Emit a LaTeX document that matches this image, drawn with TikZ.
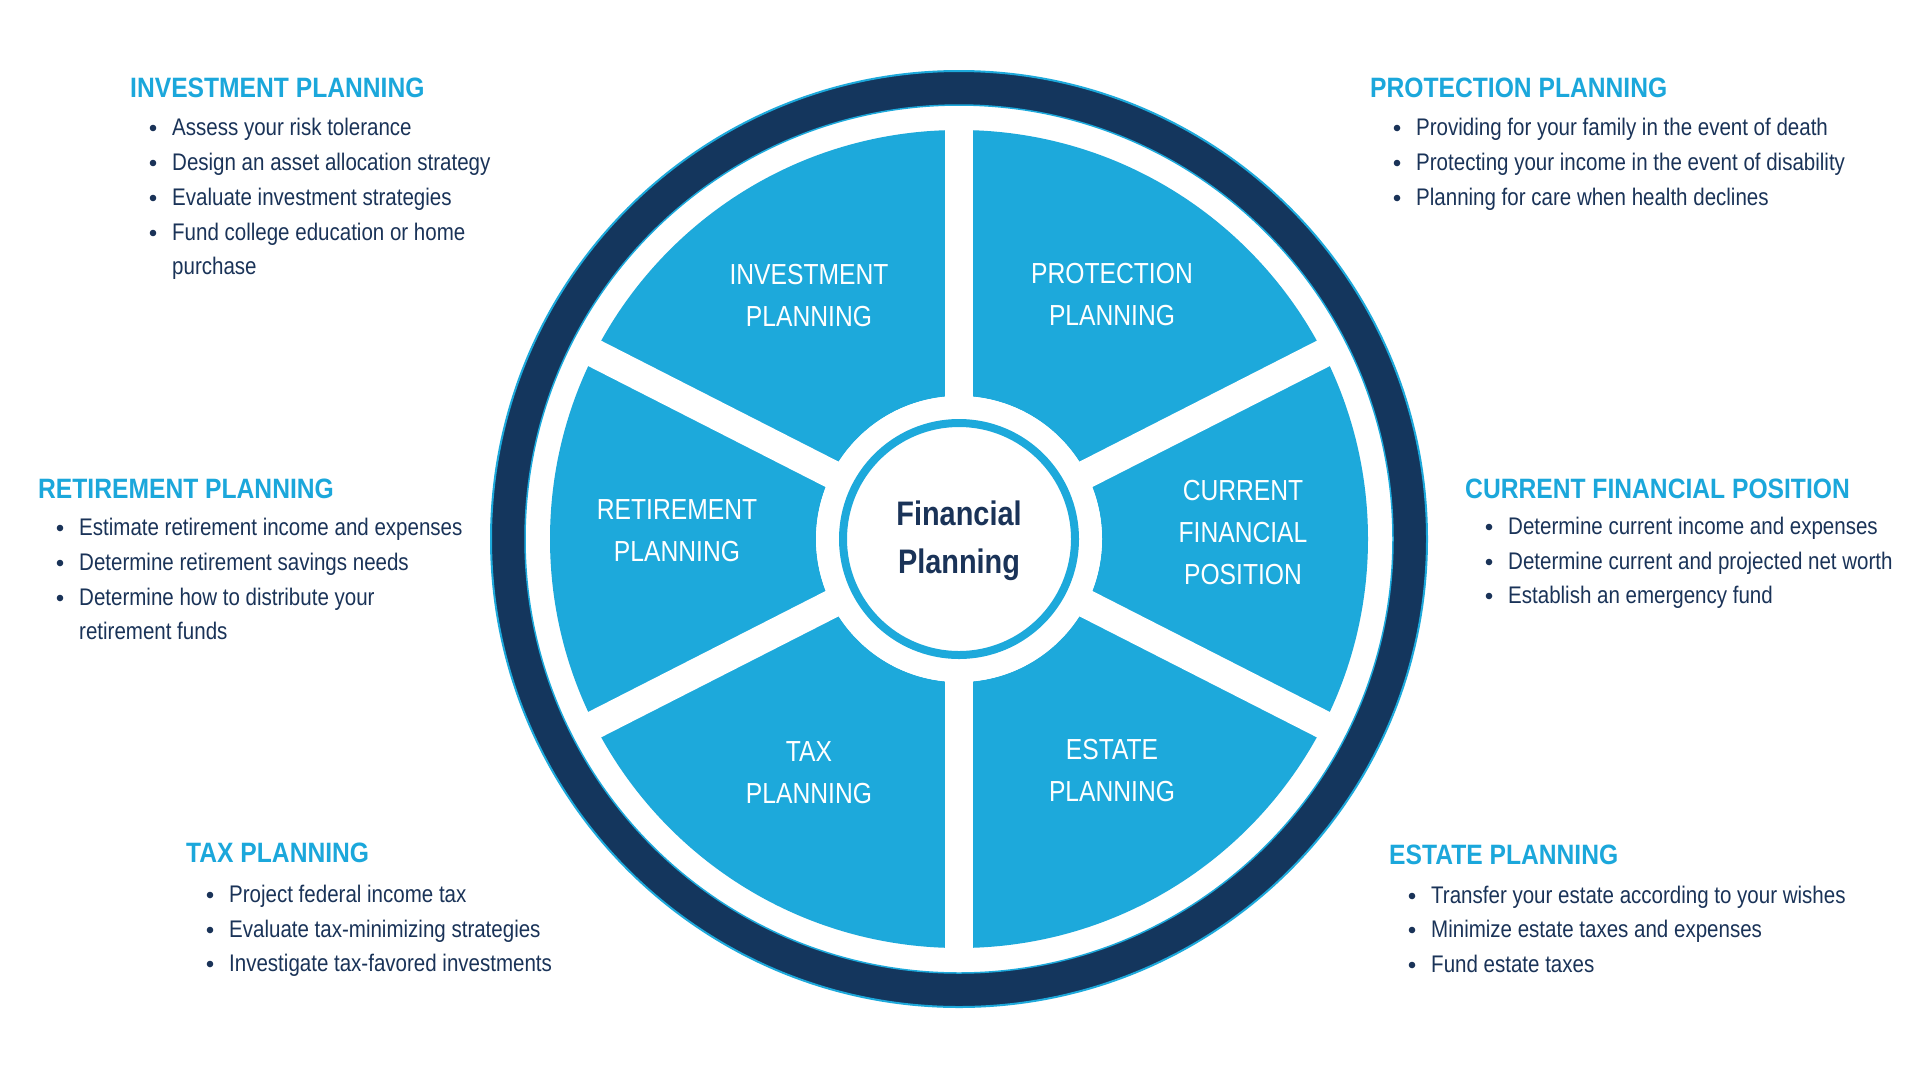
\documentclass[tikz,border=0pt]{standalone}
\usepackage{fontspec}
\setmainfont{Liberation Sans}[FakeStretch=0.855]
\newfontfamily\segfont{Liberation Sans}[FakeStretch=0.85]
\newfontfamily\headfont{Liberation Sans}[FakeStretch=0.88]
\newfontfamily\centfont{Liberation Sans}[FakeStretch=0.85]
\definecolor{segblue}{HTML}{1DA9DB}
\definecolor{ringnavy}{HTML}{14365D}
\definecolor{txtnavy}{HTML}{1A3358}
\definecolor{headblue}{HTML}{1BA7DB}
\tikzset{
  heading/.style={inner sep=0pt, anchor=base west, text=headblue, font=\headfont\bfseries\fontsize{28}{34}\selectfont},
  itemtext/.style={inner sep=0pt, anchor=base west, text=txtnavy, font=\fontsize{24}{30}\selectfont},
  seglabel/.style={inner sep=0pt, align=center, text=white, font=\segfont\fontsize{29}{42}\selectfont},
  centlabel/.style={inner sep=0pt, align=center, text=txtnavy, font=\centfont\bfseries\fontsize{34}{48}\selectfont},
  gapline/.style={white, line width=28.5pt},
}
\newcommand\bitem[3]{%
  \node[itemtext] (#1) at (#2) {#3};
  \fill[txtnavy] ([xshift=-19pt,yshift=7pt]#1.base west) circle (3.3pt);}
\newcommand\citem[3]{\node[itemtext] (#1) at (#2) {#3};}
\begin{document}
\begin{tikzpicture}[x=1pt,y=-1pt]
\useasboundingbox[fill=white] (0,0) rectangle (1920,1080);
\coordinate (c) at (959,539);
% outer ring
\draw[ringnavy, line width=34pt] (c) circle (451pt);
\draw[segblue, line width=2pt] (c) circle (468pt);
\draw[segblue, line width=1.5pt] (c) circle (434pt);
% segments
\fill[segblue, even odd rule] (c) circle (409pt) (c) circle (143pt);
\foreach \a in {90,270,27,153,207,333}
  \draw[gapline] (c) -- ++(\a:425pt);
% centre
\fill[white] (c) circle (143pt);
\draw[segblue, line width=8pt] (c) circle (116pt);
\node[centlabel] (center) at (959,541) {Financial\\Planning};
% segment labels
\node[seglabel] (sInv) at (809,296) {INVESTMENT\\PLANNING};
\node[seglabel] (sPro) at (1112,295) {PROTECTION\\PLANNING};
\node[seglabel] (sRet) at (677,531) {RETIREMENT\\PLANNING};
\node[seglabel] (sCur) at (1243,533) {CURRENT\\FINANCIAL\\POSITION};
\node[seglabel] (sTax) at (809,773) {TAX\\PLANNING};
\node[seglabel] (sEst) at (1112,771) {ESTATE\\PLANNING};
% investment
\node[heading] (hInv) at (130,97) {INVESTMENT PLANNING};
\bitem{i1}{172,135}{Assess your risk tolerance}
\bitem{i2}{172,170}{Design an asset allocation strategy}
\bitem{i3}{172,205}{Evaluate investment strategies}
\bitem{i4}{172,240}{Fund college education or home}
\citem{i5}{172,274}{purchase}
% protection
\node[heading] (hPro) at (1370,97) {PROTECTION PLANNING};
\bitem{p1}{1416,135}{Providing for your family in the event of death}
\bitem{p2}{1416,170}{Protecting your income in the event of disability}
\bitem{p3}{1416,205}{Planning for care when health declines}
% retirement
\node[heading] (hRet) at (38,498) {RETIREMENT PLANNING};
\bitem{r1}{79,535}{Estimate retirement income and expenses}
\bitem{r2}{79,570}{Determine retirement savings needs}
\bitem{r3}{79,605}{Determine how to distribute your}
\citem{r4}{79,639}{retirement funds}
% current
\node[heading] (hCur) at (1465,498) {CURRENT FINANCIAL POSITION};
\bitem{c1}{1508,534}{Determine current income and expenses}
\bitem{c2}{1508,569}{Determine current and projected net worth}
\bitem{c3}{1508,603}{Establish an emergency fund}
% tax
\node[heading] (hTax) at (186,862) {TAX PLANNING};
\bitem{t1}{229,902}{Project federal income tax}
\bitem{t2}{229,937}{Evaluate tax-minimizing strategies}
\bitem{t3}{229,971}{Investigate tax-favored investments}
% estate
\node[heading] (hEst) at (1389,864) {ESTATE PLANNING};
\bitem{e1}{1431,903}{Transfer your estate according to your wishes}
\bitem{e2}{1431,937}{Minimize estate taxes and expenses}
\bitem{e3}{1431,972}{Fund estate taxes}
\end{tikzpicture}
\end{document}
